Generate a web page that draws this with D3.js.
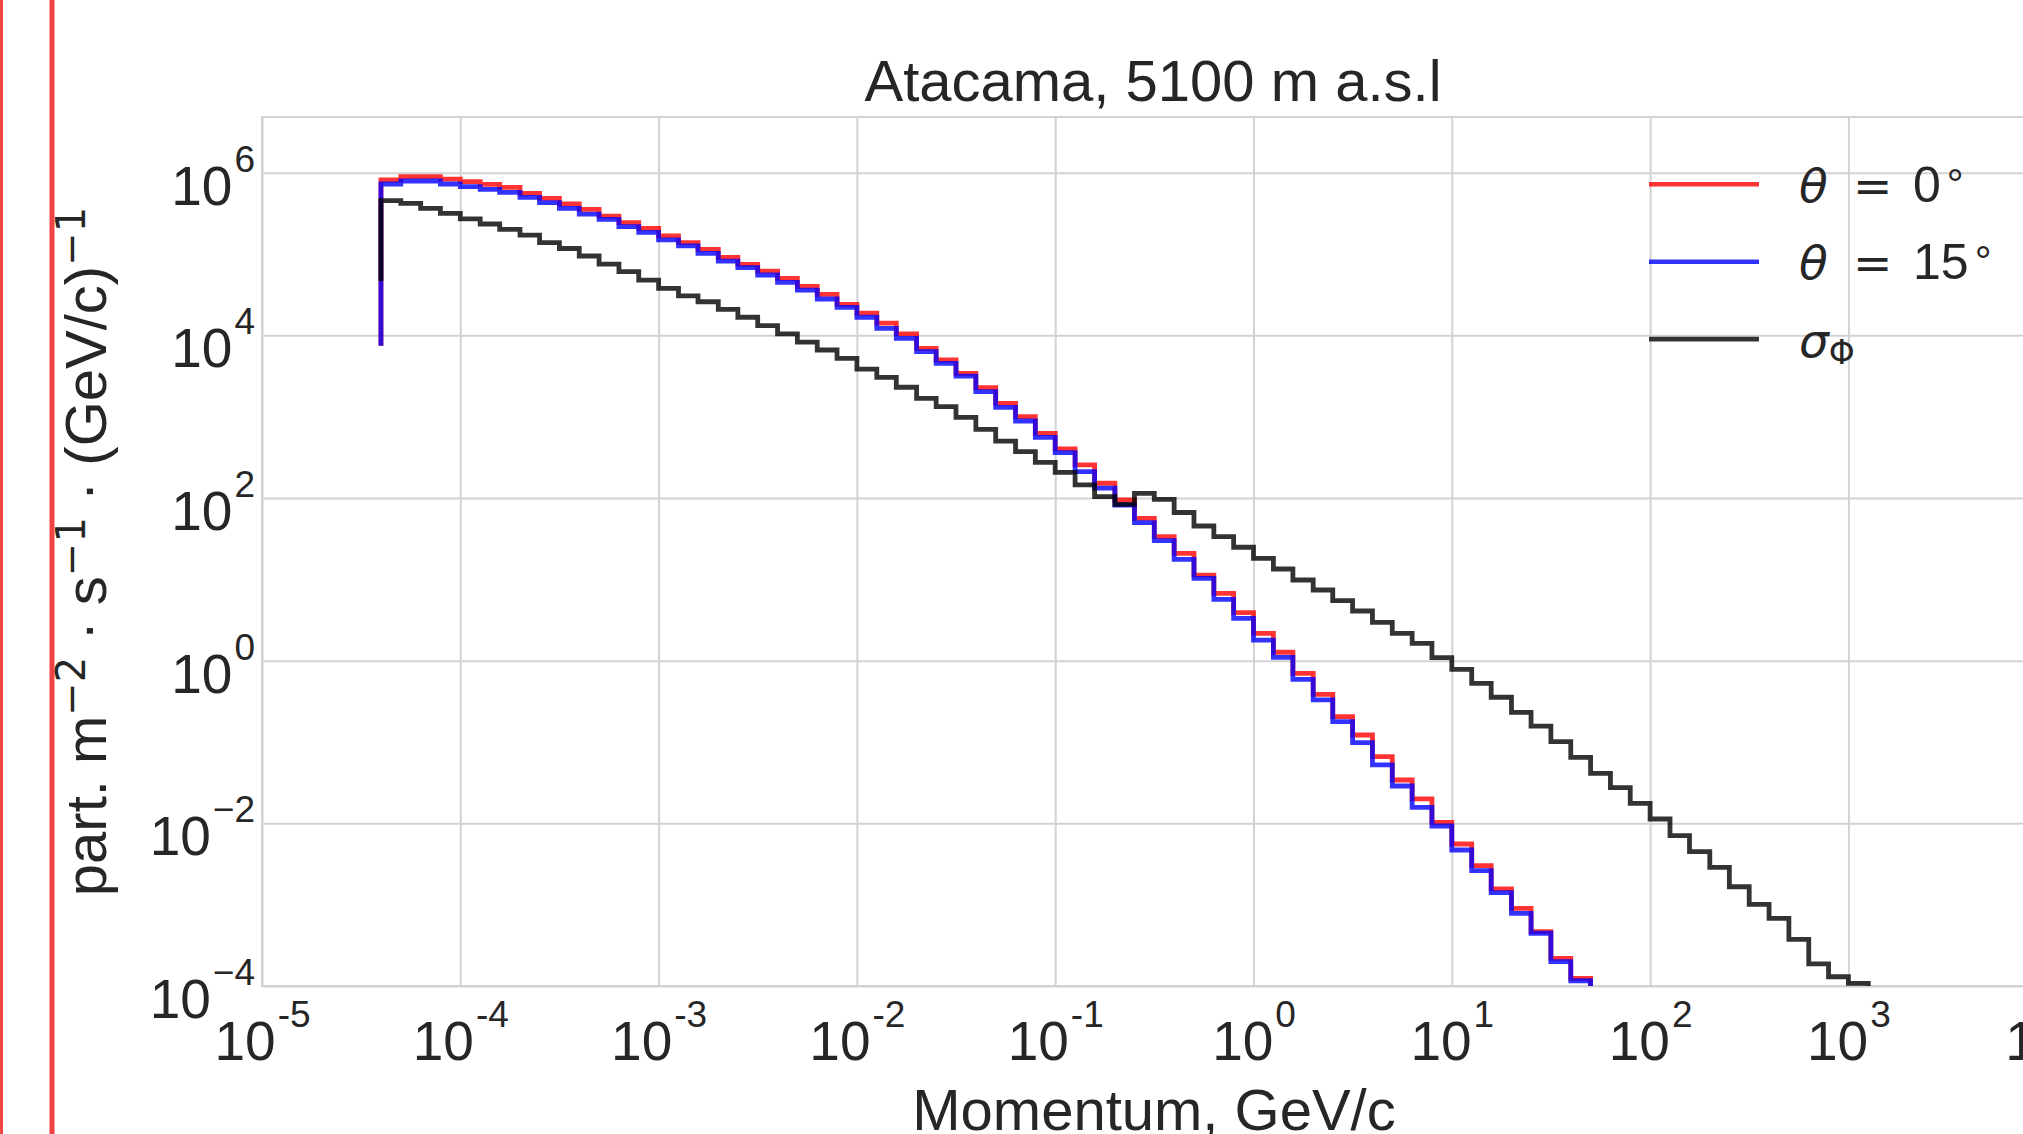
<!DOCTYPE html>
<html><head><meta charset="utf-8">
<script src="https://cdn.jsdelivr.net/npm/d3@7"></script>
<style>body{margin:0;background:#fff;overflow:hidden} svg{display:block}</style>
</head><body>
<script>
// ---- DATA ----
// Bin edges of the momentum histogram (GeV/c), 10 log bins per decade
const momentumEdges = [
  3.98e-5,5.01e-5,6.31e-5,7.94e-5,
  1e-4,1.26e-4,1.58e-4,2e-4,2.51e-4,3.16e-4,3.98e-4,5.01e-4,6.31e-4,7.94e-4,
  1e-3,1.26e-3,1.58e-3,2e-3,2.51e-3,3.16e-3,3.98e-3,5.01e-3,6.31e-3,7.94e-3,
  1e-2,1.26e-2,1.58e-2,2e-2,2.51e-2,3.16e-2,3.98e-2,5.01e-2,6.31e-2,7.94e-2,
  1e-1,1.26e-1,1.58e-1,2e-1,2.51e-1,3.16e-1,3.98e-1,5.01e-1,6.31e-1,7.94e-1,
  1,1.26,1.58,2,2.51,3.16,3.98,5.01,6.31,7.94,
  10,12.6,15.8,20,25.1,31.6,39.8,50.1,63.1,79.4,
  100,126,158,200,251,316,398,501,631,794,
  1000,1260,1580
];
// Step ("pre") series: first value is the starting point at the first edge,
// value k applies to the bin ending at edge k.
const fluxTheta0 = [
  8.0e3,
  8.13e5,8.93e5,8.93e5,8.36e5,7.76e5,7.19e5,6.61e5,5.57e5,4.84e5,4.12e5,
  3.54e5,2.93e5,2.43e5,2.07e5,1.67e5,1.38e5,1.14e5,9.10e4,7.46e4,6.18e4,
  5.02e4,4.01e4,3.19e4,2.40e4,1.87e4,1.41e4,1.04e4,6.92e3,4.98e3,3.41e3,
  2.28e3,1.46e3,1.00e3,624,401,255,152,94.6,56.2,33.5,
  20.9,11.3,6.73,3.89,2.17,1.27,0.700,0.385,0.205,0.122,
  0.0661,0.0341,0.0200,0.0103,5.57e-3,3.02e-3,1.56e-3,9.02e-4,4.66e-4,2.19e-4,
  1.24e-4,
  6e-5
];
const fluxTheta15 = [
  8.0e3,
  7.26e5,7.91e5,7.91e5,7.26e5,6.73e5,6.24e5,5.73e5,4.98e5,4.28e5,3.65e5,
  3.10e5,2.67e5,2.17e5,1.85e5,1.49e5,1.26e5,1.02e5,8.20e4,6.79e4,5.52e4,
  4.49e4,3.59e4,2.80e4,2.21e4,1.67e4,1.22e4,9.18e3,6.31e3,4.53e3,3.16e3,
  2.03e3,1.30e3,885,557,361,211,132,82.0,49.8,29.9,
  17.6,10.3,5.68,3.32,1.79,1.10,0.590,0.329,0.178,0.0982,
  0.0522,0.0288,0.0157,9.27e-3,4.70e-3,2.62e-3,1.41e-3,7.83e-4,4.45e-4,1.99e-4,
  1.16e-4,
  5e-5
];
const fluxSigma = [
  5.0e4,
  4.53e5,4.20e5,3.65e5,3.16e5,2.70e5,2.34e5,2.01e5,1.71e5,1.38e5,1.17e5,
  9.46e4,7.53e4,6.07e4,4.79e4,3.78e4,3.05e4,2.59e4,2.09e4,1.67e4,1.32e4,
  1.04e4,8.24e3,6.61e3,5.21e3,3.85e3,3.05e3,2.30e3,1.68e3,1.33e3,982,
  700,502,372,275,207,145,104,83.6,114,96.4,
  66.4,45.3,33.5,24.8,18.1,13.4,9.82,7.40,5.47,4.08,
  2.96,2.17,1.63,1.09,0.783,0.527,0.355,0.232,0.157,0.101,
  0.0649,0.0412,0.0275,0.0176,0.0113,7.05e-3,4.49e-3,2.88e-3,1.66e-3,1.01e-3,
  6.79e-4,3.75e-4,1.87e-4,1.30e-4,1.08e-4,
  5e-5
];
const seriesKeys = ["theta0","theta15","sigma"];
const seriesColors = ["#ff0000","#0000ff","#000000"];
const xTickValues = [1e-5,1e-4,1e-3,1e-2,1e-1,1,1e1,1e2,1e3,1e4];
const xTickExponents = ["-5","-4","-3","-2","-1","0","1","2","3","4"];
const yTickValues = [1e-4,1e-2,1,1e2,1e4,1e6];
const yTickExponents = ["\u22124","\u22122","0","2","4","6"];
const titleText = "Atacama, 5100 m a.s.l";
const xLabelText = "Momentum, GeV/c";

// ---- LAYOUT ----
const W = 2023, H = 1134;
const L = 262, T = 117, B = 986, R = 2046.7;
const textColor = "#262626", gridColor = "#d2d2d2";
const sans = "'Liberation Sans', Arial, sans-serif";
const dejavu = "'DejaVu Sans', sans-serif";

const svg = d3.select("body").append("svg").attr("width", W).attr("height", H)
  .style("background", "#fff");

// decorative red borders at the left of the picture
svg.append("rect").attr("x", 0).attr("y", 0).attr("width", 3).attr("height", H).attr("fill", "#f04444");
svg.append("rect").attr("x", 49.5).attr("y", 0).attr("width", 5).attr("height", H).attr("fill", "#f04444");

const x = d3.scaleLog().domain([1e-5, 1e4]).range([L, R]);
const y = d3.scaleLog().domain([1e-4, 4.84e6]).range([B, T]);

// grid
const gx = svg.append("g").attr("transform", `translate(0,${B})`)
  .call(d3.axisBottom(x).tickValues(xTickValues).tickSize(-(B - T)).tickFormat(""));
gx.select(".domain").remove();
gx.selectAll("line").attr("stroke", gridColor).attr("stroke-width", 2);
const gy = svg.append("g").attr("transform", `translate(${L},0)`)
  .call(d3.axisLeft(y).tickValues(yTickValues).tickSize(-(R - L)).tickFormat(""));
gy.select(".domain").remove();
gy.selectAll("line").attr("stroke", gridColor).attr("stroke-width", 2);

// frame
svg.append("rect").attr("x", L).attr("y", T).attr("width", R - L).attr("height", B - T)
  .attr("fill", "none").attr("stroke", gridColor).attr("stroke-width", 2);

// x tick labels
const ax = svg.append("g").attr("transform", `translate(0,${B})`)
  .call(d3.axisBottom(x).tickValues(xTickValues).tickSize(0).tickFormat(""));
ax.select(".domain").remove();
ax.selectAll(".tick text").each(function(d, i) {
  const t = d3.select(this).attr("y", 73.5).attr("dy", null)
    .attr("font-family", sans).attr("font-size", 55).attr("fill", textColor)
    .attr("text-anchor", "middle");
  t.text(null);
  t.append("tspan").text("10");
  t.append("tspan").attr("font-size", 37).attr("dy", -33).attr("dx", 2).text(xTickExponents[i]);
});

// y tick labels
const ay = svg.append("g").attr("transform", `translate(${L},0)`)
  .call(d3.axisLeft(y).tickValues(yTickValues).tickSize(0).tickFormat(""));
ay.select(".domain").remove();
ay.selectAll(".tick text").each(function(d, i) {
  const t = d3.select(this).attr("x", -7).attr("y", 31.5).attr("dy", null)
    .attr("font-family", sans).attr("font-size", 55).attr("fill", textColor)
    .attr("text-anchor", "end");
  t.text(null);
  t.append("tspan").text("10");
  t.append("tspan").attr("font-size", 37).attr("dy", -33).attr("dx", 2).text(yTickExponents[i]);
});

// data lines
svg.append("clipPath").attr("id", "plotclip").append("rect")
  .attr("x", L).attr("y", T).attr("width", R - L).attr("height", B - T);
const seriesData = [fluxTheta0, fluxTheta15, fluxSigma];
const line = d3.line()
  .x((d, i) => x(momentumEdges[i]))
  .y(d => y(d))
  .curve(d3.curveStepBefore);
const gLines = svg.append("g").attr("clip-path", "url(#plotclip)");
seriesData.forEach((vals, k) => {
  gLines.append("path").datum(vals).attr("d", line)
    .attr("fill", "none").attr("stroke", seriesColors[k]).attr("stroke-opacity", 0.8)
    .attr("stroke-width", 4.8).attr("stroke-linejoin", "miter").attr("stroke-linecap", "square");
});

// title
svg.append("text").attr("x", 1153).attr("y", 100.5).attr("text-anchor", "middle")
  .attr("font-family", sans).attr("font-size", 58).attr("fill", textColor).text(titleText);
// x label
svg.append("text").attr("x", 1154).attr("y", 1130).attr("text-anchor", "middle")
  .attr("font-family", sans).attr("font-size", 58).attr("fill", textColor).text(xLabelText);
// y label
const yl = svg.append("text").attr("transform", `translate(106,${(T + B) / 2}) rotate(-90)`)
  .attr("text-anchor", "middle").attr("font-family", sans).attr("font-size", 58).attr("fill", textColor);
yl.append("tspan").text("part. m");
yl.append("tspan").attr("font-family", dejavu).attr("font-size", 40).attr("dy", -21).text("\u22122");
yl.append("tspan").attr("dy", 21).text(" \u00B7 s");
yl.append("tspan").attr("font-family", dejavu).attr("font-size", 40).attr("dy", -21).text("\u22121");
yl.append("tspan").attr("dy", 21).text(" \u00B7 (GeV/c)");
yl.append("tspan").attr("font-family", dejavu).attr("font-size", 40).attr("dy", -21).text("\u22121");

// legend
const legY0 = 184.3, legDY = 77.4;
const leg = svg.append("g");
seriesKeys.forEach((key, k) => {
  const ly = legY0 + k * legDY;
  leg.append("line").attr("x1", 1649).attr("x2", 1759).attr("y1", ly).attr("y2", ly)
    .attr("stroke", seriesColors[k]).attr("stroke-opacity", 0.8).attr("stroke-width", 4.6);
  const t = leg.append("text").attr("x", 1799).attr("y", ly + 17.5)
    .attr("font-family", sans).attr("font-size", 47).attr("fill", textColor);
  if (key === "sigma") {
    t.append("tspan").attr("font-family", dejavu).attr("font-style", "italic").text("\u03C3");
    t.append("tspan").attr("font-family", dejavu).attr("font-size", 33).attr("dy", 7).text("\u03A6");
  } else {
    t.append("tspan").attr("font-family", dejavu).attr("font-style", "italic").text("\u03B8");
    t.append("tspan").attr("x", 1853).attr("font-family", dejavu).text("=");
    t.append("tspan").attr("x", 1913).attr("font-size", 50).text(key === "theta0" ? "0" : "15");
    t.append("tspan").attr("dx", 6).attr("dy", -3).attr("font-size", 42).text("\u00B0");
  }
});
</script>
</body></html>
